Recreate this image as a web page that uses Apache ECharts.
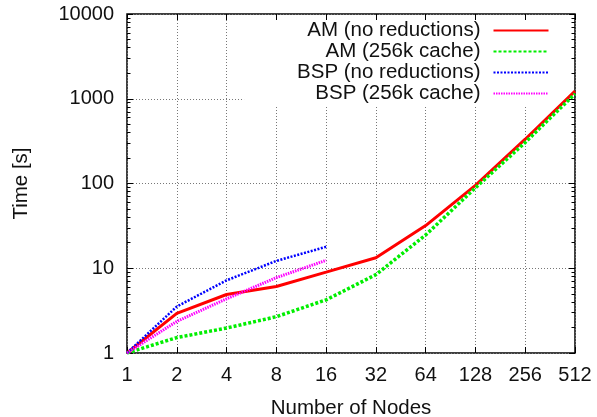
<!DOCTYPE html>
<html>
<head>
<meta charset="utf-8">
<script src="https://cdn.jsdelivr.net/npm/echarts@6/dist/echarts.min.js"></script>
<style>
  html, body { margin: 0; padding: 0; background: #fff; }
  #chart { width: 597px; height: 417px; }
</style>
</head>
<body>
<div id="chart"></div>
<script>
const chart = echarts.init(document.getElementById('chart'), null, { renderer: 'canvas' });

// values
const nodes = [1, 2, 4, 8, 16, 32, 64, 128, 256, 512];
const amNoReductions = [1, 2.94, 4.9, 6.1, 9.0, 13.3, 31.9, 95, 333, 1230];
const am256kCache = [1, 1.52, 1.97, 2.68, 4.24, 8.4, 24.7, 89, 305, 1145];
const bspNoReductions = [1, 3.53, 7.2, 12.2, 17.9];
const bsp256kCache = [1, 2.36, 4.36, 7.75, 12.4];
const seriesNames = ['AM (no reductions)', 'AM (256k cache)', 'BSP (no reductions)', 'BSP (256k cache)'];

const font = 'Liberation Sans, Arial, sans-serif';
const pairs = vals => vals.map((v, i) => [nodes[i], v]);

const gridLine = { show: true, lineStyle: { color: '#777', width: 1, type: [1, 2] } };
const blackTick = { show: true, inside: true, length: 6, lineStyle: { color: '#000' } };
const minor = { show: true, splitNumber: 9, length: 3.5, lineStyle: { color: '#000' } };

chart.setOption({
    animation: false,
    textStyle: { fontFamily: font },
    // the frame is the grid border
    grid: {
        show: true, left: 127, top: 14, right: 22, bottom: 64,
        outerBoundsMode: 'none', containLabel: false,
        borderColor: '#000', borderWidth: 1.5
    },
    legend: {
        orient: 'vertical',
        align: 'right',
        right: 23.5,
        top: 15,
        z: 1,
        padding: [5, 24, 1, 53],
        itemGap: 0,
        itemWidth: 55,
        itemHeight: 10,
        backgroundColor: '#fff',
        itemStyle: { opacity: 0 },
        textStyle: { fontFamily: font, fontSize: 20.5, color: '#111', lineHeight: 21, padding: [0, 8, 0, 0] },
        data: seriesNames
    },
    xAxis: [{
        type: 'log',
        logBase: 2,
        min: 1,
        max: 512,
        name: 'Number of Nodes',
        nameLocation: 'middle',
        nameGap: 45,
        nameTextStyle: { fontFamily: font, fontSize: 20.5, color: '#111' },
        axisLine: { show: false },
        axisTick: blackTick,
        axisLabel: { fontFamily: font, fontSize: 20, color: '#111', margin: 12 },
        splitLine: gridLine
    }, {
        type: 'log',
        logBase: 2,
        min: 1,
        max: 512,
        position: 'top',
        z: 5,
        axisLine: { show: false },
        axisTick: blackTick,
        axisLabel: { show: false },
        splitLine: { show: false }
    }],
    yAxis: [{
        type: 'log',
        min: 1,
        max: 10000,
        name: 'Time [s]',
        nameLocation: 'middle',
        nameGap: 95,
        nameTextStyle: { fontFamily: font, fontSize: 20.5, color: '#111' },
        axisLine: { show: false },
        axisTick: blackTick,
        minorTick: minor,
        axisLabel: { fontFamily: font, fontSize: 20, color: '#111', margin: 13, formatter: v => String(v) },
        splitLine: gridLine
    }, {
        type: 'log',
        gridIndex: 0,
        min: 1,
        max: 10000,
        position: 'right',
        z: 5,
        axisLine: { show: false },
        axisTick: blackTick,
        minorTick: minor,
        axisLabel: { show: false },
        splitLine: { show: false }
    }],
    series: [{
        name: seriesNames[0],
        type: 'line',
        data: pairs(amNoReductions),
        symbol: 'none',
        z: 3,
        lineStyle: { color: '#ff0000', width: 3 },
        itemStyle: { color: '#ff0000' }
    }, {
        name: seriesNames[1],
        type: 'line',
        data: pairs(am256kCache),
        symbol: 'none',
        z: 3,
        lineStyle: { color: '#00ee00', width: 3.5, type: [3, 2] },
        itemStyle: { color: '#00ee00' }
    }, {
        name: seriesNames[2],
        type: 'line',
        data: pairs(bspNoReductions),
        symbol: 'none',
        z: 3,
        lineStyle: { color: '#0000ff', width: 2.5, type: [2, 1.5] },
        itemStyle: { color: '#0000ff' }
    }, {
        name: seriesNames[3],
        type: 'line',
        data: pairs(bsp256kCache),
        symbol: 'none',
        z: 3,
        lineStyle: { color: '#ff00ff', width: 3, type: [1.5, 1] },
        itemStyle: { color: '#ff00ff' }
    }]
});
</script>
</body>
</html>
